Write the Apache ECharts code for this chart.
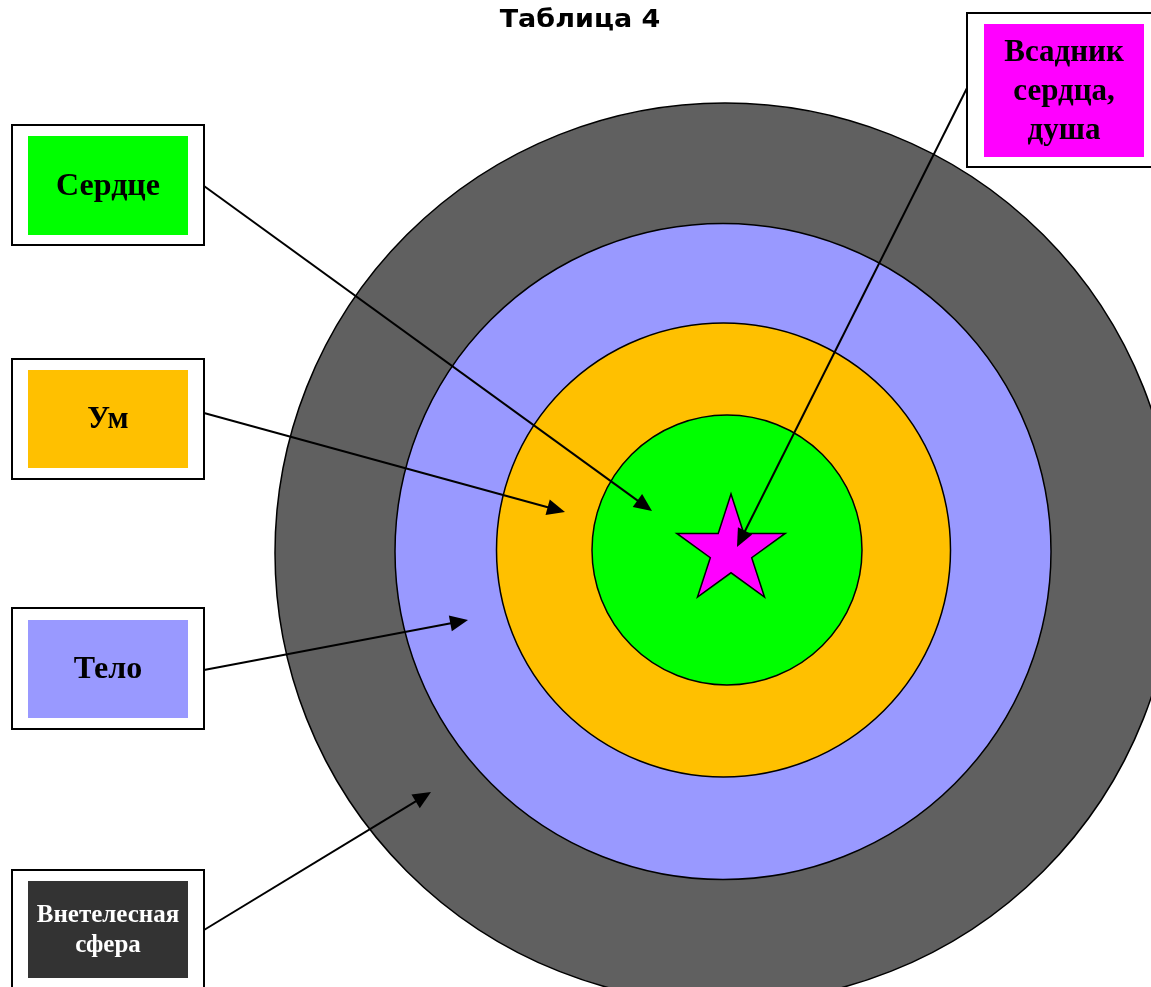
<!DOCTYPE html>
<html>
<head>
<meta charset="utf-8">
<script src="https://cdn.jsdelivr.net/npm/echarts@6/dist/echarts.min.js"></script>
<style>
html,body{margin:0;padding:0;background:#fff;}
#main{width:1151px;height:987px;}
</style>
</head>
<body>
<div id="main"></div>
<script>
// ---- data (diagram units = canvas pixels) ----
var titleText = 'Таблица 4';
var ringNames = ['Внетелесная сфера', 'Тело', 'Ум', 'Сердце'];
var ringCentersX = [725, 723, 723.5, 727];
var ringCentersY = [553, 551.5, 550, 550];
var ringRadii = [450, 328, 227, 135];
var ringColors = ['#606060', '#9999FF', '#FFC000', '#00FF00'];

var starCenter = [731, 551];
var starRadius = 57;

var boxLabels = ['Сердце', 'Ум', 'Тело', 'Внетелесная\nсфера', 'Всадник\nсердца,\nдуша'];
var boxOuter = [[12,125,204,245],[12,359,204,479],[12,608,204,729],[12,870,204,1000],[967,13,1170,167]];
var boxInner = [[28,136,188,235],[28,370,188,468],[28,620,188,718],[28,881,188,978],[984,24,1144,157]];
var boxColors = ['#00FF00', '#FFC000', '#9999FF', '#333333', '#FF00FF'];
var boxTextColors = ['#000', '#000', '#000', '#fff', '#000'];
var boxFontSizes = [32, 31, 32, 25, 31];
var boxLineHeights = [36, 36, 36, 30, 39];

var arrowFrom = [[204,186],[204,413],[204,670],[204,930],[967,88]];
var arrowTo = [[652,511],[565,512],[468,620],[431,792],[737,547]];

var W = 1151, H = 987;
var chart = echarts.init(document.getElementById('main'), null, {renderer: 'canvas'});

var ringData = ringRadii.map(function (r, i) { return [ringCentersX[i], ringCentersY[i], r, i]; });
var boxData = boxOuter.map(function (b, i) { return [b[0], b[1], b[2], b[3], boxInner[i][0], boxInner[i][1], boxInner[i][2], boxInner[i][3], i]; });
var arrowData = arrowFrom.map(function (f, i) { return [f[0], f[1], arrowTo[i][0], arrowTo[i][1]]; });

var option = {
  animation: false,
  backgroundColor: '#fff',
  graphic: [{
    type: 'text', x: 580, y: 8, scaleX: 1.08, z: 10,
    style: {text: titleText, align: 'center', verticalAlign: 'top',
      fontFamily: 'DejaVu Sans', fontWeight: 'bold', fontSize: 25, fill: '#000'}
  }],
  grid: {left: 0, right: 0, top: 0, bottom: 0},
  xAxis: {type: 'value', min: 0, max: W, show: false},
  yAxis: {type: 'value', min: 0, max: H, inverse: true, show: false},
  series: [
    {
      type: 'custom', name: 'rings', clip: false, z: 1,
      data: ringData,
      renderItem: function (params, api) {
        var c = api.coord([api.value(0), api.value(1)]);
        var r = api.size([api.value(2), 0])[0];
        return {type: 'circle', shape: {cx: c[0], cy: c[1], r: r},
          style: {fill: ringColors[api.value(3)], stroke: '#000', lineWidth: 1.5}};
      }
    },
    {
      type: 'custom', name: 'star', clip: false, z: 2,
      data: [[starCenter[0], starCenter[1], starRadius]],
      renderItem: function (params, api) {
        var c = api.coord([api.value(0), api.value(1)]);
        var R = api.size([api.value(2), 0])[0];
        var r = R * 0.382;
        var pts = [];
        for (var k = 0; k < 10; k++) {
          var ang = Math.PI / 2 + k * Math.PI / 5;
          var rr = k % 2 === 0 ? R : r;
          pts.push([c[0] + rr * Math.cos(ang), c[1] - rr * Math.sin(ang)]);
        }
        return {type: 'polygon', shape: {points: pts},
          style: {fill: '#FF00FF', stroke: '#000', lineWidth: 1.5}};
      }
    },
    {
      type: 'custom', name: 'boxes', clip: false, z: 3,
      data: boxData,
      renderItem: function (params, api) {
        var o1 = api.coord([api.value(0), api.value(1)]);
        var o2 = api.coord([api.value(2), api.value(3)]);
        var i1 = api.coord([api.value(4), api.value(5)]);
        var i2 = api.coord([api.value(6), api.value(7)]);
        var idx = api.value(8);
        return {type: 'group', children: [
          {type: 'rect', shape: {x: o1[0], y: o1[1], width: o2[0] - o1[0], height: o2[1] - o1[1]},
            style: {fill: '#fff', stroke: '#000', lineWidth: 2}},
          {type: 'rect', shape: {x: i1[0], y: i1[1], width: i2[0] - i1[0], height: i2[1] - i1[1]},
            style: {fill: boxColors[idx]}},
          {type: 'text', x: (i1[0] + i2[0]) / 2, y: (i1[1] + i2[1]) / 2 + 1,
            style: {text: boxLabels[idx], fill: boxTextColors[idx], align: 'center', verticalAlign: 'middle',
              fontFamily: 'Liberation Serif', fontWeight: 'bold', fontSize: boxFontSizes[idx],
              lineHeight: boxLineHeights[idx]}}
        ]};
      }
    },
    {
      type: 'custom', name: 'arrows', clip: false, z: 4,
      data: arrowData,
      renderItem: function (params, api) {
        var a = api.coord([api.value(0), api.value(1)]);
        var b = api.coord([api.value(2), api.value(3)]);
        var dx = b[0] - a[0], dy = b[1] - a[1];
        var len = Math.sqrt(dx * dx + dy * dy);
        var ux = dx / len, uy = dy / len;
        var L = 18, hw = 8;
        var bx = b[0] - ux * L, by = b[1] - uy * L;
        return {type: 'group', children: [
          {type: 'line', shape: {x1: a[0], y1: a[1], x2: bx + ux * 2, y2: by + uy * 2},
            style: {stroke: '#000', lineWidth: 2}},
          {type: 'polygon', shape: {points: [[b[0], b[1]], [bx - uy * hw, by + ux * hw], [bx + uy * hw, by - ux * hw]]},
            style: {fill: '#000'}}
        ]};
      }
    }
  ]
};
chart.setOption(option);
</script>
</body>
</html>
